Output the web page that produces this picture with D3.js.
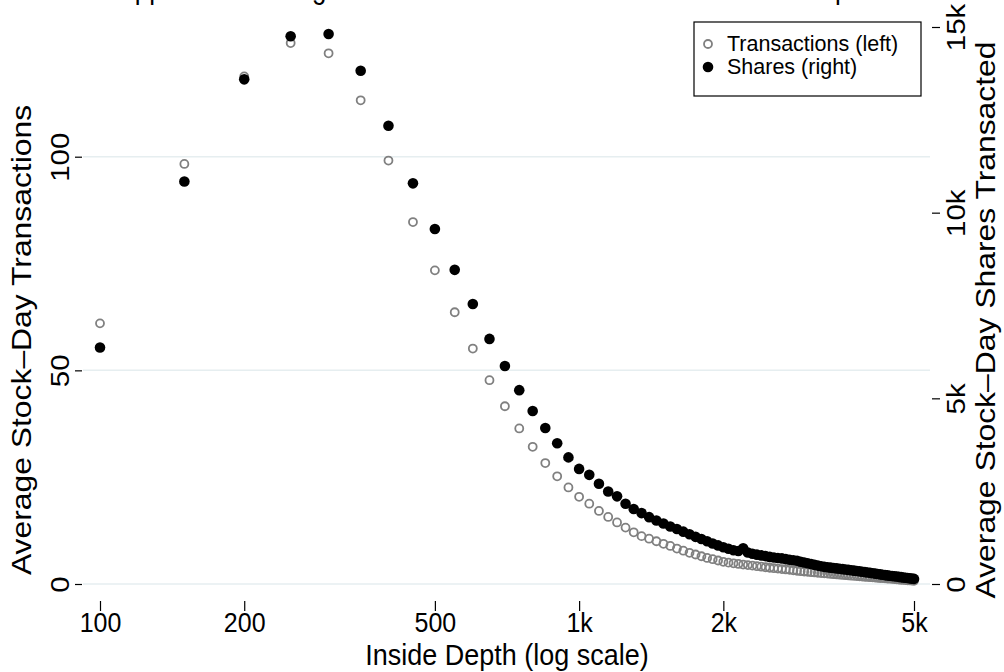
<!DOCTYPE html>
<html>
<head>
<meta charset="utf-8">
<script src="https://cdn.jsdelivr.net/npm/d3@7"></script>
<style>
  html, body { margin: 0; padding: 0; background: #fff; }
  svg { display: block; font-family: "Liberation Sans", Arial, Helvetica, sans-serif; }
</style>
</head>
<body>
<svg id="chart" width="1004" height="672"></svg>
<script>
// ---- data ----
const titleText = "Upper Tail Trading Volume and Transactions at each Inside Depth";
const xTitle = "Inside Depth (log scale)";
const yLeftTitle = "Average Stock\u2013Day Transactions";
const yRightTitle = "Average Stock\u2013Day Shares Transacted";
const seriesNames = ["Transactions (left)", "Shares (right)"];

const xTickValues = [100, 200, 500, 1000, 2000, 5000];
const xTickLabels = ["100", "200", "500", "1k", "2k", "5k"];
const yLeftTicks = [0, 50, 100];
const yLeftTickLabels = ["0", "50", "100"];
const yRightTicks = [0, 5000, 10000, 15000];
const yRightTickLabels = ["0", "5k", "10k", "15k"];

const depth = [
  100, 150, 200, 250, 300, 350, 400, 450, 500, 550,
  600, 650, 700, 750, 800, 850, 900, 950, 1000, 1050,
  1100, 1150, 1200, 1250, 1300, 1350, 1400, 1450, 1500, 1550,
  1600, 1650, 1700, 1750, 1800, 1850, 1900, 1950, 2000, 2050,
  2100, 2150, 2200, 2250, 2300, 2350, 2400, 2450, 2500, 2550,
  2600, 2650, 2700, 2750, 2800, 2850, 2900, 2950, 3000, 3050,
  3100, 3150, 3200, 3250, 3300, 3350, 3400, 3450, 3500, 3550,
  3600, 3650, 3700, 3750, 3800, 3850, 3900, 3950, 4000, 4050,
  4100, 4150, 4200, 4250, 4300, 4350, 4400, 4450, 4500, 4550,
  4600, 4650, 4700, 4750, 4800, 4850, 4900, 4950, 5000
];

const transactions = [
  61.0, 98.3, 118.8, 126.6, 124.2, 113.2, 99.1, 84.7, 73.4, 63.6,
  55.1, 47.7, 41.6, 36.4, 32.1, 28.3, 25.2, 22.6, 20.4, 18.8,
  17.1, 15.7, 14.4, 13.2, 12.1, 11.2, 10.6, 10.0, 9.4, 8.9,
  8.3, 7.8, 7.3, 6.9, 6.5, 6.1, 5.8, 5.5, 5.2, 5.0,
  4.85, 4.7, 4.55, 4.42, 4.3, 4.17, 4.05, 3.92, 3.8, 3.7,
  3.6, 3.5, 3.4, 3.3, 3.2, 3.1, 3.0, 2.92, 2.85, 2.77,
  2.7, 2.62, 2.55, 2.48, 2.42, 2.36, 2.3, 2.24, 2.18, 2.12,
  2.06, 2.0, 1.95, 1.9, 1.85, 1.8, 1.75, 1.7, 1.65, 1.6,
  1.55, 1.5, 1.45, 1.41, 1.37, 1.32, 1.28, 1.24, 1.2, 1.15,
  1.1, 1.05, 1.0, 0.96, 0.92, 0.87, 0.83, 0.79, 0.75
];

const shares = [
  6370, 10840, 13590, 14750, 14810, 13820, 12340, 10790, 9560, 8460,
  7540, 6600, 5870, 5220, 4660, 4200, 3790, 3410, 3100, 2940,
  2700, 2490, 2360, 2160, 2020, 1910, 1800, 1710, 1630, 1550,
  1480, 1410, 1340, 1270, 1210, 1150, 1090, 1040, 990, 950,
  910, 890, 960, 850, 815, 790, 770, 750, 730, 715,
  700, 690, 670, 655, 640, 625, 600, 580, 560, 540,
  515, 495, 478, 462, 450, 440, 430, 420, 410, 400,
  390, 380, 370, 360, 350, 340, 330, 320, 310, 300,
  290, 280, 270, 260, 250, 240, 232, 224, 216, 208,
  200, 192, 184, 176, 168, 160, 152, 145, 138
];

// ---- chart ----
const svg = d3.select("#chart");
const TICK_FS = 25;     // tick label size
const TITLE_FS = 27;    // axis title size
const STRETCH = 1.18;   // tall, narrow glyphs as in the reference
const HSTRETCH = 1.12;  // vertical stretch for horizontal texts near the bottom

const x = d3.scaleLog().domain([100, 5000]).range([100, 914]);
const yL = d3.scaleLinear().domain([0, 100]).range([584, 156.7]);
const yR = d3.scaleLinear().domain([0, 15000]).range([584, 27]);

// gridlines
svg.append("g").selectAll("line").data(yLeftTicks).join("line")
  .attr("x1", 83).attr("x2", 930)
  .attr("y1", d => yL(d)).attr("y2", d => yL(d))
  .attr("stroke", "#e6eef0").attr("stroke-width", 1.5);

// left axis
const gL = svg.append("g").attr("transform", "translate(82,0)")
  .call(d3.axisLeft(yL).tickValues(yLeftTicks).tickSize(7)
    .tickFormat((d, i) => yLeftTickLabels[i]));
gL.select(".domain").remove();
gL.selectAll(".tick line").attr("stroke", "#000").attr("stroke-width", 1.2);
gL.selectAll(".tick text")
  .attr("x", null).attr("dy", null).attr("y", null)
  .attr("transform", `translate(-13,0) rotate(-90) scale(${STRETCH},1)`)
  .attr("text-anchor", "middle")
  .attr("fill", "#000").style("font-size", TICK_FS + "px").style("font-family", "Liberation Sans, Arial, sans-serif");

// right axis
const gR = svg.append("g").attr("transform", "translate(932,0)")
  .call(d3.axisRight(yR).tickValues(yRightTicks).tickSize(8)
    .tickFormat((d, i) => yRightTickLabels[i]));
gR.select(".domain").remove();
gR.selectAll(".tick line").attr("stroke", "#000").attr("stroke-width", 1.2);
gR.selectAll(".tick text")
  .attr("x", null).attr("dy", null).attr("y", null)
  .attr("transform", `translate(33,0) rotate(-90) scale(${STRETCH},1)`)
  .attr("text-anchor", "middle")
  .attr("fill", "#000").style("font-size", TICK_FS + "px").style("font-family", "Liberation Sans, Arial, sans-serif");

// bottom axis
const gB = svg.append("g").attr("transform", "translate(0,601)")
  .call(d3.axisBottom(x).tickValues(xTickValues).tickSize(10)
    .tickFormat((d, i) => xTickLabels[i]));
gB.select(".domain").remove();
gB.selectAll(".tick line").attr("stroke", "#000").attr("stroke-width", 1.2);
gB.selectAll(".tick text")
  .attr("y", null).attr("dy", null)
  .attr("transform", `translate(0,31) scale(1,${HSTRETCH})`)
  .attr("fill", "#000").style("font-size", TICK_FS + "px").style("font-family", "Liberation Sans, Arial, sans-serif");

// axis titles
svg.append("text").attr("transform", `translate(507,665) scale(1,${HSTRETCH})`).attr("text-anchor", "middle")
  .style("font-size", TITLE_FS + "px").text(xTitle);
svg.append("text").attr("transform", `translate(31,340) rotate(-90) scale(${STRETCH},1)`).attr("text-anchor", "middle")
  .style("font-size", TITLE_FS + "px").text(yLeftTitle);
svg.append("text").attr("transform", `translate(995,320) rotate(-90) scale(${STRETCH},1)`).attr("text-anchor", "middle")
  .style("font-size", TITLE_FS + "px").text(yRightTitle);

// title (mostly cut off at the top edge, as in the reference)
svg.append("text").attr("transform", `translate(116,-2) scale(1,${STRETCH})`).attr("text-anchor", "start")
  .style("font-size", "26px").text(titleText);

// points
const pts = depth.map((d, i) => ({ d, t: transactions[i], s: shares[i] }));
svg.append("g").selectAll("circle").data(pts).join("circle")
  .attr("cx", p => x(p.d)).attr("cy", p => yL(p.t)).attr("r", 4)
  .attr("fill", "none").attr("stroke", "#808080").attr("stroke-width", 1.8);
svg.append("g").selectAll("circle").data(pts).join("circle")
  .attr("cx", p => x(p.d)).attr("cy", p => yR(p.s)).attr("r", 5.3)
  .attr("fill", "#000");

// legend
const lg = svg.append("g");
lg.append("rect").attr("x", 694).attr("y", 22).attr("width", 227).attr("height", 74)
  .attr("fill", "#fff").attr("stroke", "#000").attr("stroke-width", 1.2);
lg.append("circle").attr("cx", 708).attr("cy", 44).attr("r", 4)
  .attr("fill", "none").attr("stroke", "#808080").attr("stroke-width", 1.8);
lg.append("circle").attr("cx", 708).attr("cy", 67).attr("r", 5.3).attr("fill", "#000");
lg.selectAll("text").data(seriesNames).join("text")
  .attr("x", 727).attr("y", (d, i) => 51 + i * 23)
  .style("font-size", "21.5px").text(d => d);
</script>
</body>
</html>
